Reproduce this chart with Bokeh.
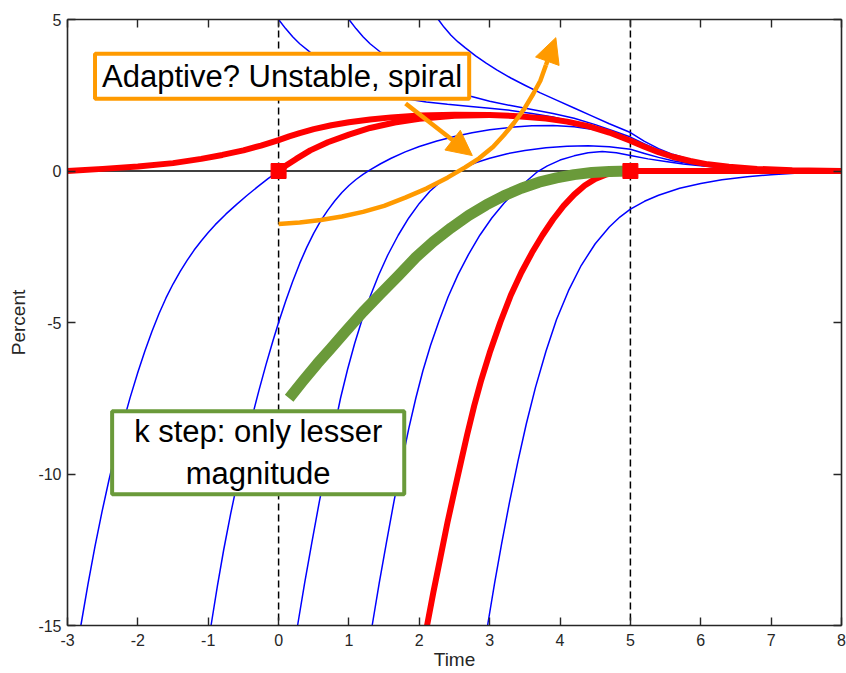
from bokeh.plotting import figure
from bokeh.models import (LinearAxis, FixedTicker, Span, Label, Arrow, NormalHead,
                          CustomJSTickFormatter, Range1d)
from bokeh.embed import file_html
from bokeh.resources import INLINE

# ---------------- data ----------------
x_ticks = [-3, -2, -1, 0, 1, 2, 3, 4, 5, 6, 7, 8]
y_ticks = [-15, -10, -5, 0, 5]
x_limits = [-3, 8]
y_limits = [-15, 5]
shock_times = [0, 5]
zero_level = 0

# thin blue trajectories
b1_x = [-2.81, -2.71, -2.61, -2.51, -2.41, -2.31, -2.21, -2.11, -2.0, -1.9, -1.8, -1.7, -1.6, -1.5, -1.4, -1.3, -1.2, -1.1, -1.0, -0.9, -0.75, -0.6, -0.45, -0.3, -0.15, 0]
b1_y = [-15, -13.65, -12.4, -11.25, -10.19, -9.21, -8.31, -7.48, -6.64, -5.94, -5.3, -4.71, -4.19, -3.73, -3.32, -2.95, -2.61, -2.31, -2.03, -1.77, -1.425, -1.11, -0.81, -0.525, -0.25, 0]

b2_x = [-0.96, -0.87, -0.78, -0.68, -0.58, -0.48, -0.38, -0.28, -0.18, -0.08, 0, 0.1, 0.2, 0.3, 0.4, 0.5, 0.6, 0.7, 0.8, 0.9, 1.0, 1.1, 1.2, 1.3, 1.45, 1.6, 1.8, 2.0, 2.25, 2.5, 2.75, 3.0, 3.3, 3.6, 3.9, 4.2, 4.5, 4.75, 5.0, 5.2, 5.4, 5.6, 5.85, 6.1, 6.4, 6.8, 7.3, 8]
b2_y = [-15, -13.7, -12.5, -11.3, -10.2, -9.15, -8.15, -7.25, -6.4, -5.6, -5.0, -4.3, -3.65, -3.05, -2.52, -2.05, -1.64, -1.29, -0.98, -0.71, -0.48, -0.28, -0.11, 0.04, 0.24, 0.42, 0.63, 0.81, 0.99, 1.14, 1.26, 1.36, 1.44, 1.49, 1.5, 1.46, 1.36, 1.2, 1.0, 0.79, 0.6, 0.45, 0.31, 0.21, 0.13, 0.065, 0.025, 0]

b3_x = [0.27, 0.37, 0.47, 0.58, 0.69, 0.79, 0.88, 0.98, 1.08, 1.18, 1.3, 1.42, 1.55, 1.7, 1.85, 2.0, 2.15, 2.3, 2.45, 2.6, 2.8, 3.0, 3.25, 3.5, 3.8, 4.1, 4.4, 4.7, 5.0, 5.2, 5.4, 5.6, 5.85, 6.1, 6.4, 6.8, 7.3, 8]
b3_y = [-15, -13.6, -12.3, -10.9, -9.62, -8.5, -7.5, -6.55, -5.7, -4.95, -4.15, -3.45, -2.78, -2.12, -1.55, -1.07, -0.67, -0.36, -0.12, 0.07, 0.27, 0.42, 0.57, 0.68, 0.77, 0.82, 0.83, 0.8, 0.72, 0.58, 0.45, 0.34, 0.24, 0.16, 0.1, 0.05, 0.02, 0]

b4_x = [1.33, 1.43, 1.53, 1.64, 1.75, 1.85, 1.95, 2.05, 2.16, 2.28, 2.41, 2.55, 2.7, 2.86, 3.03, 3.2, 3.37, 3.53, 3.67, 3.82, 4.0, 4.2, 4.4, 4.6, 4.8, 5.0, 5.25, 5.5, 5.75, 6.0, 6.3, 6.66, 7.0, 7.5, 8]
b4_y = [-15, -13.6, -12.3, -10.9, -9.62, -8.5, -7.5, -6.6, -5.75, -4.95, -4.15, -3.42, -2.75, -2.12, -1.55, -1.07, -0.66, -0.32, -0.04, 0.17, 0.36, 0.5, 0.6, 0.64, 0.6, 0.51, 0.4, 0.31, 0.23, 0.17, 0.12, 0.07, 0.04, 0.015, 0]

b5_x = [2.97, 3.07, 3.17, 3.28, 3.4, 3.52, 3.65, 3.8, 3.95, 4.12, 4.3, 4.5, 4.7, 4.85, 5.0, 5.2, 5.4, 5.7, 6.0, 6.3, 6.66, 7.0, 7.5, 8]
b5_y = [-15, -13.6, -12.3, -10.95, -9.6, -8.35, -7.15, -5.95, -4.9, -3.95, -3.12, -2.4, -1.85, -1.52, -1.26, -1.0, -0.8, -0.57, -0.41, -0.29, -0.19, -0.12, -0.05, 0]

t1_x = [0, 0.1, 0.2, 0.3, 0.46, 0.6, 0.8, 1.0, 1.2, 1.4, 1.6, 1.85, 2.1, 2.4, 2.73, 3.0, 3.3, 3.6, 3.9, 4.2, 4.5, 4.75, 5.0, 5.2, 5.4, 5.6, 5.85, 6.1, 6.4, 6.8, 7.3, 8]
t1_y = [5, 4.7, 4.43, 4.2, 3.9, 3.67, 3.38, 3.13, 2.9, 2.7, 2.53, 2.37, 2.28, 2.2, 2.13, 2.07, 2.0, 1.9, 1.78, 1.62, 1.42, 1.24, 1.05, 0.84, 0.65, 0.49, 0.34, 0.23, 0.14, 0.07, 0.025, 0]

t2_x = [1.0, 1.1, 1.2, 1.3, 1.45, 1.6, 1.8, 2.0, 2.2, 2.45, 2.73, 3.0, 3.3, 3.6, 3.9, 4.2, 4.5, 4.75, 5.0, 5.2, 5.4, 5.6, 5.85, 6.1, 6.4, 6.8, 7.3, 8]
t2_y = [5, 4.7, 4.43, 4.2, 3.92, 3.68, 3.4, 3.15, 2.93, 2.7, 2.47, 2.3, 2.16, 2.03, 1.9, 1.74, 1.53, 1.33, 1.12, 0.89, 0.69, 0.52, 0.36, 0.25, 0.15, 0.075, 0.027, 0]

t3_x = [2.27, 2.35, 2.45, 2.55, 2.65, 2.8, 2.95, 3.1, 3.3, 3.5, 3.72, 3.95, 4.2, 4.45, 4.7, 5.0, 5.2, 5.4, 5.6, 5.85, 6.1, 6.4, 6.8, 7.3, 8]
t3_y = [5, 4.75, 4.48, 4.26, 4.07, 3.8, 3.56, 3.34, 3.07, 2.83, 2.58, 2.34, 2.08, 1.82, 1.56, 1.27, 0.98, 0.74, 0.55, 0.38, 0.26, 0.16, 0.08, 0.03, 0]

blue_curves = [(b1_x, b1_y), (b2_x, b2_y), (b3_x, b3_y), (b4_x, b4_y), (b5_x, b5_y),
               (t1_x, t1_y), (t2_x, t2_y), (t3_x, t3_y)]

# thick red equilibrium paths
r1_x = [-3, -2.5, -2, -1.5, -1.1, -0.8, -0.5, -0.25, 0, 0.15, 0.3, 0.5, 0.75, 1.0, 1.3, 1.6, 2.0, 2.5, 3.0, 3.4, 3.8, 4.1, 4.4, 4.7, 5.0, 5.2, 5.4, 5.6, 5.85, 6.1, 6.4, 6.8, 7.3, 8]
r1_y = [0, 0.07, 0.15, 0.26, 0.4, 0.53, 0.68, 0.84, 1.02, 1.14, 1.25, 1.38, 1.51, 1.61, 1.7, 1.77, 1.83, 1.86, 1.85, 1.81, 1.73, 1.63, 1.48, 1.27, 1.0, 0.8, 0.62, 0.47, 0.33, 0.22, 0.14, 0.07, 0.025, 0]

r2_x = [0, 0.1, 0.25, 0.45, 0.7, 1.0, 1.3, 1.65, 2.0, 2.5, 3.0]
r2_y = [0, 0.17, 0.4, 0.68, 0.95, 1.2, 1.42, 1.6, 1.72, 1.82, 1.85]

r3_x = [2.11, 2.2, 2.3, 2.4, 2.5, 2.59, 2.68, 2.78, 2.88, 3.0, 3.15, 3.3, 3.45, 3.6, 3.75, 3.9, 4.05, 4.2, 4.35, 4.5, 4.65, 4.8, 5]
r3_y = [-15, -13.9, -12.75, -11.6, -10.55, -9.62, -8.7, -7.75, -6.9, -6.0, -5.0, -4.1, -3.35, -2.7, -2.12, -1.6, -1.15, -0.78, -0.48, -0.26, -0.12, -0.04, 0]

r_flat_x = [5, 8]
r_flat_y = [0, 0]

red_points_x = [0, 5]
red_points_y = [0, 0]

# green path (k step)
g_x = [0.15, 0.35, 0.55, 0.74, 0.95, 1.2, 1.45, 1.7, 1.95, 2.2, 2.45, 2.7, 2.95, 3.2, 3.45, 3.7, 3.95, 4.2, 4.45, 4.7, 5.0]
g_y = [-7.5, -6.92, -6.36, -5.86, -5.3, -4.65, -4.05, -3.46, -2.85, -2.33, -1.88, -1.47, -1.12, -0.82, -0.57, -0.37, -0.23, -0.12, -0.05, -0.015, 0]

# orange spiral path
o_x = [0, 0.3, 0.6, 0.9, 1.2, 1.5, 1.8, 2.1, 2.4, 2.65, 2.85, 3.05, 3.2, 3.35, 3.5, 3.62, 3.72, 3.8]
o_y = [-1.75, -1.7, -1.62, -1.5, -1.35, -1.15, -0.88, -0.58, -0.22, 0.12, 0.42, 0.8, 1.18, 1.6, 2.08, 2.55, 2.98, 3.5]
o_arrow = [3.8, 3.5, 3.94, 4.4]             # x_start, y_start, x_end, y_end
pointer_arrow = [1.805, 2.23, 2.753, 0.51]  # x_start, y_start, x_end, y_end

orange_box_pos = [0.05, 3.13]
green_box_pos = [-0.29, -9.3]
orange_text = "Adaptive? Unstable, spiral"
green_text = "k step: only lesser\nmagnitude"

# ---------------- styling ----------------
BLUE = "#0000FF"
RED = "#FF0000"
GREEN = "#6A9A3A"
ORANGE = "#FF9A00"
AXC = "#262626"
FONT = "Liberation Sans"

p = figure(width=846, height=672,
           x_range=Range1d(x_limits[0], x_limits[1]), y_range=Range1d(y_limits[0], y_limits[1]),
           output_backend="svg", toolbar_location=None,
           min_border_left=67, min_border_right=5, min_border_top=19, min_border_bottom=43)
p.xgrid.visible = False
p.ygrid.visible = False
p.outline_line_color = None
p.background_fill_color = "white"
p.border_fill_color = "white"

plain_fmt = "return tick.toString()"


def style_axis(ax, ticks):
    ax.ticker = FixedTicker(ticks=ticks)
    ax.major_tick_in = 8
    ax.major_tick_out = 0
    ax.minor_tick_line_color = None
    ax.axis_line_color = AXC
    ax.axis_line_width = 1.6
    ax.major_tick_line_color = AXC
    ax.major_tick_line_width = 1.4
    ax.major_label_text_font = FONT
    ax.major_label_text_font_size = "16px"
    ax.major_label_text_color = AXC
    ax.axis_label_text_font = FONT
    ax.axis_label_text_font_size = "19px"
    ax.axis_label_text_font_style = "normal"
    ax.axis_label_text_color = AXC


style_axis(p.xaxis[0], x_ticks)
style_axis(p.yaxis[0], y_ticks)
p.xaxis[0].formatter = CustomJSTickFormatter(code=plain_fmt)
p.yaxis[0].formatter = CustomJSTickFormatter(code=plain_fmt)
p.xaxis[0].axis_label = "Time"
p.yaxis[0].axis_label = "Percent"
p.xaxis[0].major_label_standoff = 8
p.xaxis[0].axis_label_standoff = 0
p.yaxis[0].major_label_standoff = 6
p.yaxis[0].axis_label_standoff = 6

for loc, ticks in (("above", x_ticks), ("right", y_ticks)):
    ax = LinearAxis()
    style_axis(ax, ticks)
    ax.formatter = CustomJSTickFormatter(code="return ''")
    ax.major_label_text_font_size = "0px"
    ax.major_label_standoff = 0
    p.add_layout(ax, loc)

for xv in shock_times:
    p.add_layout(Span(location=xv, dimension="height", line_color="black",
                      line_dash="7 4", line_width=1.5, level="underlay"))
p.add_layout(Span(location=zero_level, dimension="width", line_color="black",
                  line_width=1.5, level="underlay"))

for bx, by in blue_curves:
    p.line(bx, by, line_color=BLUE, line_width=1.5, line_join="round")

for rx, ry in ((r1_x, r1_y), (r2_x, r2_y), (r3_x, r3_y), (r_flat_x, r_flat_y)):
    p.line(rx, ry, line_color=RED, line_width=6, line_join="round")

p.line(g_x, g_y, line_color=GREEN, line_width=11, line_join="round")
p.line(o_x, o_y, line_color=ORANGE, line_width=4.5, line_join="round")

p.scatter(red_points_x, red_points_y, marker="square", size=15, color=RED)

p.add_layout(Arrow(end=NormalHead(size=25, fill_color=ORANGE, line_color=ORANGE, line_width=1),
                   x_start=o_arrow[0], y_start=o_arrow[1], x_end=o_arrow[2], y_end=o_arrow[3],
                   line_color=ORANGE, line_width=4.5))
p.add_layout(Arrow(end=NormalHead(size=25, fill_color=ORANGE, line_color=ORANGE, line_width=1),
                   x_start=pointer_arrow[0], y_start=pointer_arrow[1],
                   x_end=pointer_arrow[2], y_end=pointer_arrow[3],
                   line_color=ORANGE, line_width=4.5))

p.add_layout(Label(x=orange_box_pos[0], y=orange_box_pos[1], text=orange_text,
                   text_font=FONT, text_font_size="31px", text_color="black",
                   text_align="center", text_baseline="middle",
                   background_fill_color="white", border_line_color=ORANGE,
                   border_line_width=4, padding=dict(left=7, right=7, top=5, bottom=5)))
p.add_layout(Label(x=green_box_pos[0], y=green_box_pos[1], text=green_text,
                   text_font=FONT, text_font_size="31px", text_color="black",
                   text_align="center", text_baseline="middle",
                   background_fill_color="white", border_line_color=GREEN,
                   border_line_width=4, padding=dict(left=22, right=22, top=3, bottom=3)))

open("out.html", "w").write(file_html(p, INLINE))
